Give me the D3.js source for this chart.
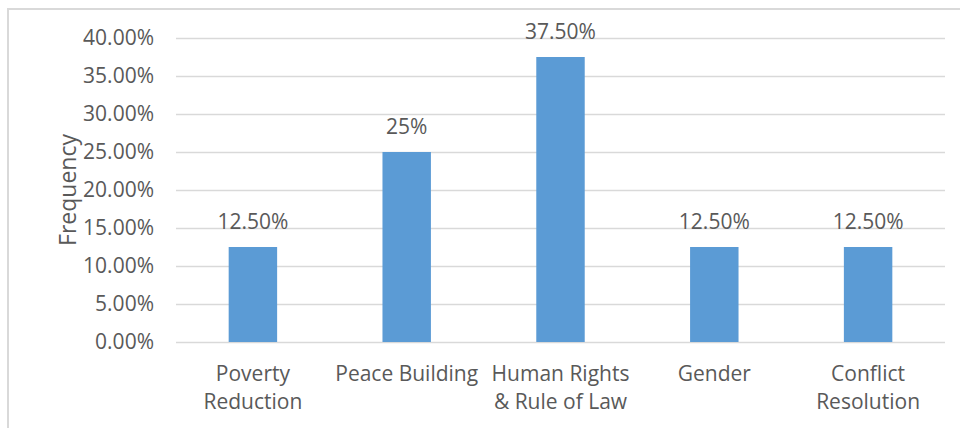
<!DOCTYPE html>
<html>
<head>
<meta charset="utf-8">
<script src="https://cdn.jsdelivr.net/npm/d3@7"></script>
<style>
  body { margin: 0; background: #fff; }
  text { font-family: "Open Sans", sans-serif; fill: #595959; }
</style>
</head>
<body>
<svg width="960" height="428"></svg>
<script>
/*
Chart data
*/
var categories = ["Poverty Reduction", "Peace Building", "Human Rights & Rule of Law", "Gender", "Conflict Resolution"],
    categoryLines = [["Poverty", "Reduction"], ["Peace Building"], ["Human Rights", "& Rule of Law"], ["Gender"], ["Conflict", "Resolution"]],
    frequency = [0.125, 0.25, 0.375, 0.125, 0.125],
    valueLabels = ["12.50%", "25%", "37.50%", "12.50%", "12.50%"],
    yTicks = [0, 0.05, 0.10, 0.15, 0.20, 0.25, 0.30, 0.35, 0.40];

var svg = d3.select("svg"),
    margin = {top: 38, right: 15, bottom: 86, left: 176},
    width = svg.attr("width") - margin.left - margin.right,
    height = svg.attr("height") - margin.top - margin.bottom;

// chart frame, cut off at right and bottom like the source
svg.append("rect")
    .attr("x", 8).attr("y", 9)
    .attr("width", 980).attr("height", 440)
    .attr("fill", "none")
    .attr("stroke", "#d9d9d9")
    .attr("stroke-width", 2);

var g = svg.append("g").attr("transform", "translate(" + margin.left + "," + margin.top + ")");

var xScale = d3.scaleBand()
    .domain(categories)
    .range([0, width])
    .paddingInner(0.685)
    .paddingOuter(0.3425);

var yScale = d3.scaleLinear()
    .domain([0, 0.40])
    .range([height, 0]);

// gridlines
g.append("g")
    .attr("class", "grid")
    .call(d3.axisLeft(yScale).tickValues(yTicks).tickSize(-width).tickFormat(""))
    .call(function(s) {
        s.select(".domain").remove();
        s.selectAll("line").attr("stroke", "#d9d9d9").attr("stroke-width", 1.5);
    });

// y axis labels
g.append("g")
    .attr("class", "axis axis--y")
    .call(d3.axisLeft(yScale).tickValues(yTicks).tickSize(0).tickPadding(22).tickFormat(d3.format(".2%")))
    .call(function(s) {
        s.select(".domain").remove();
        s.selectAll("text").style("font-size", "21px").attr("fill", "#595959");
    });

g.append("text")
    .attr("transform", "translate(" + (-100) + "," + (height / 2) + ")rotate(-90)")
    .attr("text-anchor", "middle")
    .style("font-size", "23px")
    .text("Frequency");

// bars
g.selectAll(".bar")
    .data(frequency)
    .enter().append("rect")
    .attr("class", "bar")
    .attr("x", function(d, i) { return xScale(categories[i]); })
    .attr("y", function(d) { return yScale(d); })
    .attr("width", xScale.bandwidth())
    .attr("height", function(d) { return height - yScale(d); })
    .attr("fill", "#5b9bd5");

// data labels
g.selectAll(".barLabel")
    .data(frequency)
    .enter().append("text")
    .attr("class", "barLabel")
    .attr("x", function(d, i) { return xScale(categories[i]) + xScale.bandwidth() / 2; })
    .attr("y", function(d) { return yScale(d) - 18; })
    .attr("text-anchor", "middle")
    .style("font-size", "21px")
    .text(function(d, i) { return valueLabels[i]; });

// category labels (wrapped like Excel)
var cat = g.selectAll(".catLabel")
    .data(categories)
    .enter().append("text")
    .attr("class", "catLabel")
    .attr("text-anchor", "middle")
    .style("font-size", "21px");

cat.selectAll("tspan")
    .data(function(d, i) { return categoryLines[i].map(function(t) { return {t: t, c: d}; }); })
    .enter().append("tspan")
    .attr("x", function(d) { return xScale(d.c) + xScale.bandwidth() / 2; })
    .attr("y", function(d, j) { return height + 39 + j * 28; })
    .text(function(d) { return d.t; });
</script>
</body>
</html>
